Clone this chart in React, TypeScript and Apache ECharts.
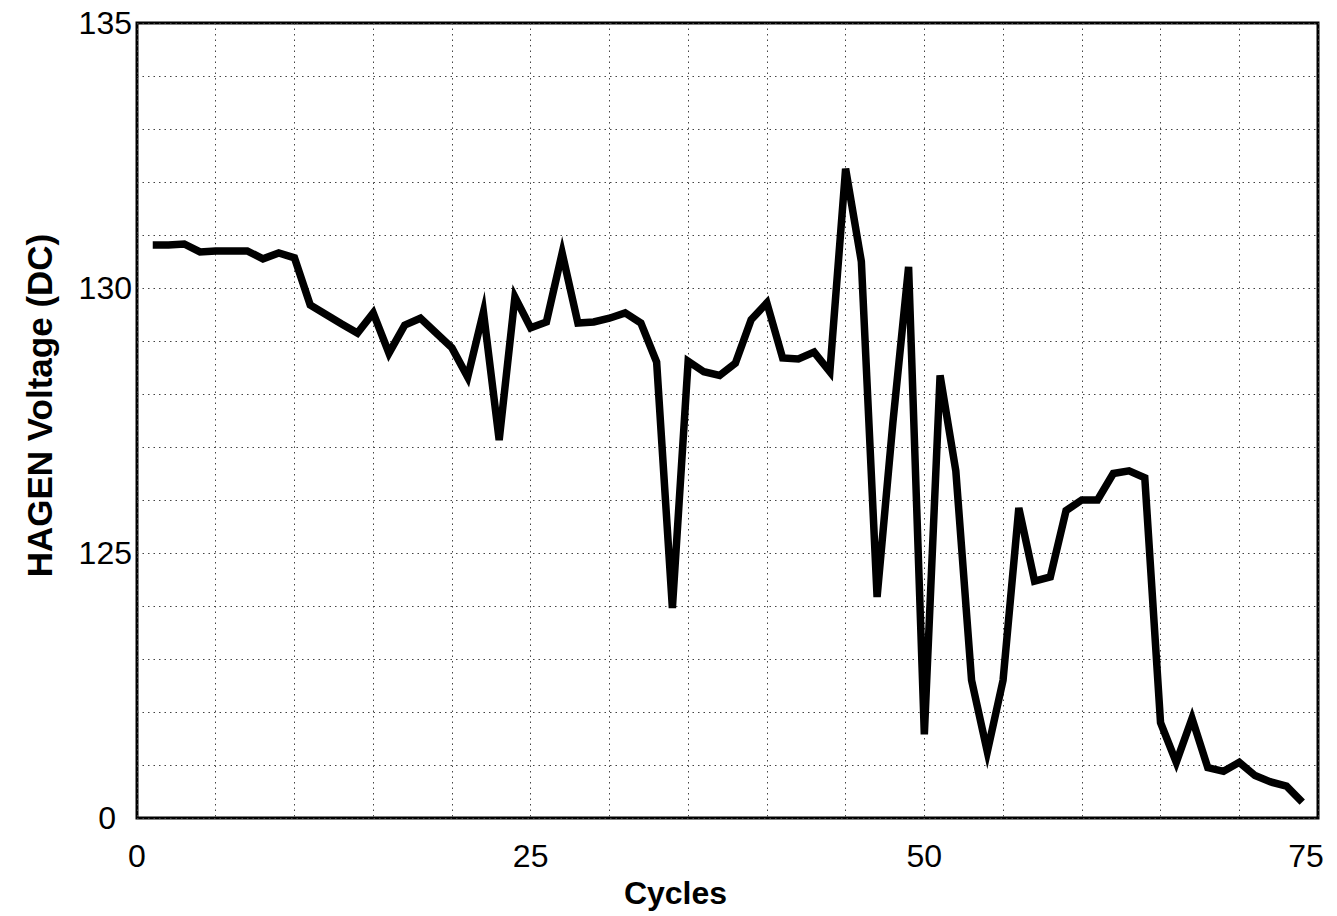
import React, { useEffect, useRef } from "react";
import * as echarts from "echarts";

const cycles: number[] = [
  1, 2, 3, 4, 5, 6, 7, 8, 9, 10, 11, 12, 13, 14, 15, 16, 17, 18, 19, 20,
  21, 22, 23, 24, 25, 26, 27, 28, 29, 30, 31, 32, 33, 34, 35, 36, 37, 38, 39, 40,
  41, 42, 43, 44, 45, 46, 47, 48, 49, 50, 51, 52, 53, 54, 55, 56, 57, 58, 59, 60,
  61, 62, 63, 64, 65, 66, 67, 68, 69, 70, 71, 72, 73, 74,
];

const voltage: number[] = [
  130.81, 130.81, 130.83, 130.68, 130.7, 130.7, 130.7, 130.55, 130.66, 130.57,
  129.68, 129.5, 129.32, 129.15, 129.53, 128.77, 129.3, 129.43, 129.15, 128.87,
  128.32, 129.55, 127.13, 129.83, 129.25, 129.36, 130.66, 129.34, 129.36, 129.43,
  129.53, 129.34, 128.6, 123.96, 128.62, 128.42, 128.35, 128.58, 129.4, 129.72,
  128.68, 128.66, 128.79, 128.42, 132.25, 130.5, 124.17, 127.45, 130.4, 121.58,
  128.35, 126.55, 122.6, 121.25, 122.6, 125.85, 124.47, 124.55, 125.8, 126.0,
  126.0, 126.5, 126.55, 126.42, 121.8, 121.05, 121.88, 120.95, 120.88, 121.05,
  120.8, 120.68, 120.6, 120.3,
];

const xTickLabels: number[] = [0, 25, 50, 75];
const yTickLabels: Record<number, string> = { 120: "0", 125: "125", 130: "130", 135: "135" };

const FONT = "'Liberation Sans', Arial, Helvetica, sans-serif";

export default function App() {
  const ref = useRef<HTMLDivElement>(null);

  useEffect(() => {
    if (!ref.current) return;
    const chart = echarts.init(ref.current, undefined, { renderer: "svg" });
    const gridLine = {
      show: true,
      lineStyle: { color: "#444", width: 1, type: [1.5, 4] as any },
    };
    const tickText = { fontFamily: FONT, fontSize: 32, color: "#000" };
    chart.setOption({
      animation: false,
      backgroundColor: "#ffffff",
      grid: {
        left: 137,
        top: 23,
        right: 19,
        bottom: 98,
        show: true,
        borderColor: "#000",
        borderWidth: 3,
        backgroundColor: "transparent",
      },
      xAxis: {
        type: "value",
        min: 0,
        max: 75,
        interval: 5,
        name: "Cycles",
        nameLocation: "middle",
        nameGap: 48,
        nameTextStyle: {
          fontFamily: FONT,
          fontWeight: "bold",
          fontSize: 32,
          color: "#000",
          padding: [0, 104, 0, 0],
        },
        axisLine: { show: false },
        axisTick: { show: false },
        splitLine: gridLine,
        axisLabel: {
          margin: 22,
          ...tickText,
          formatter: (v: number) => {
            if (!xTickLabels.includes(v)) return "";
            return v === 75 ? "{r|" + v + "}" : String(v);
          },
          rich: { r: { ...tickText, padding: [0, 24, 0, 0] } },
        },
      },
      yAxis: {
        type: "value",
        min: 120,
        max: 135,
        interval: 1,
        name: "HAGEN Voltage (DC)",
        nameLocation: "middle",
        nameRotate: 90,
        nameGap: 80,
        nameTextStyle: {
          fontFamily: FONT,
          fontWeight: "bold",
          fontSize: 35,
          color: "#000",
          padding: [0, 0, 0, 30],
        },
        axisLine: { show: false },
        axisTick: { show: false },
        splitLine: gridLine,
        axisLabel: {
          margin: 5,
          ...tickText,
          formatter: (v: number) => {
            const s = yTickLabels[v];
            if (!s) return "";
            return v === 120 ? "{z|" + s + "}" : s;
          },
          rich: { z: { ...tickText, padding: [0, 16, 0, 0] } },
        },
      },
      series: [
        {
          type: "line",
          data: cycles.map((c, i) => [c, voltage[i]]),
          showSymbol: false,
          symbol: "none",
          lineStyle: { color: "#000", width: 7.5, join: "miter", miterLimit: 6, cap: "butt" },
        },
      ],
    });
    return () => chart.dispose();
  }, []);

  return (
    <div
      ref={ref}
      style={{ position: "fixed", left: 0, top: 0, width: 1337, height: 916, background: "#fff" }}
    />
  );
}
